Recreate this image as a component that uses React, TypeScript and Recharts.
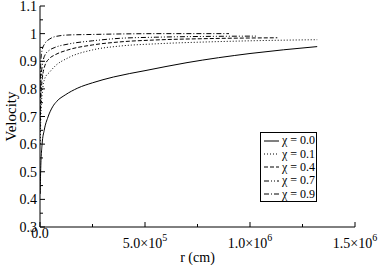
import { LineChart, Line, XAxis, YAxis } from "recharts";

// radius (cm) and velocity samples for each spin parameter
const chi00R = [1e3, 3e3, 1e4, 2e4, 3.8e4, 6e4, 8e4, 1.2e5, 1.8e5, 2.5e5, 3.5e5, 5e5, 7e5, 1e6, 1.32e6];
const chi00V = [0.42, 0.5, 0.6, 0.65, 0.698, 0.735, 0.755, 0.778, 0.803, 0.822, 0.843, 0.866, 0.895, 0.928, 0.953];

const chi01R = [1e3, 4e3, 1e4, 2.4e4, 4.5e4, 7.1e4, 1.33e5, 2.5e5, 3.8e5, 5.5e5, 8e5, 1e6, 1.32e6];
const chi01V = [0.6, 0.7, 0.78, 0.84, 0.86, 0.882, 0.912, 0.941, 0.955, 0.963, 0.97, 0.974, 0.978];

const chi04R = [1e3, 4e3, 1e4, 2.4e4, 4.5e4, 7.1e4, 1.33e5, 2.5e5, 3.8e5, 5.5e5, 8e5, 1.13e6];
const chi04V = [0.66, 0.76, 0.83, 0.886, 0.91, 0.923, 0.941, 0.959, 0.97, 0.977, 0.982, 0.985];

const chi07R = [1e3, 4e3, 1e4, 2.4e4, 4.5e4, 7.1e4, 1.33e5, 2.5e5, 3.8e5, 5.5e5, 8e5, 1.03e6];
const chi07V = [0.72, 0.82, 0.88, 0.923, 0.94, 0.95, 0.962, 0.974, 0.983, 0.987, 0.99, 0.991];

const chi09R = [1e3, 4e3, 1e4, 2.4e4, 4.5e4, 7.1e4, 1.33e5, 2.5e5, 4e5, 6e5, 9e5];
const chi09V = [0.8, 0.9, 0.94, 0.965, 0.98, 0.989, 0.995, 0.997, 0.999, 1.0, 1.0];

const xTicks = [0, 2.5e5, 5e5, 7.5e5, 1e6, 1.25e6, 1.5e6];
const yTicks = [0.3, 0.35, 0.4, 0.45, 0.5, 0.55, 0.6, 0.65, 0.7, 0.75, 0.8, 0.85, 0.9, 0.95, 1.0, 1.05, 1.1];

const seriesLabels = ["χ = 0.0", "χ = 0.1", "χ = 0.4", "χ = 0.7", "χ = 0.9"];
const dashes = ["", "1 2", "4 2", "5 2 1 2 1 2", "5 2 1 2"];

const toPoints = (r: number[], v: number[]) => r.map((x, i) => ({ r: x, v: v[i] }));
const series = [
  toPoints(chi00R, chi00V),
  toPoints(chi01R, chi01V),
  toPoints(chi04R, chi04V),
  toPoints(chi07R, chi07V),
  toPoints(chi09R, chi09V),
];

const FONT = "Liberation Serif, Times New Roman, serif";

const isMajorX = (v: number) => v % 5e5 === 0;
const isMajorY = (v: number) => Math.round(v * 100) % 10 === 0;

const BottomTick = (props: any) => {
  const { x, y, payload } = props;
  const v = payload.value;
  const major = isMajorX(v);
  let label = null;
  if (major) {
    if (v === 0) {
      label = (
        <text x={x} y={y + 11} textAnchor="middle" fontSize={14} fontFamily={FONT} fill="#000">
          0.0
        </text>
      );
    } else {
      const exp = Math.floor(Math.log10(v));
      const mant = (v / Math.pow(10, exp)).toFixed(1);
      label = (
        <text x={x} y={y + 21} textAnchor="middle" fontSize={14} fontFamily={FONT} fill="#000">
          {mant}×10
          <tspan dy={-7} fontSize={10}>{exp}</tspan>
        </text>
      );
    }
  }
  return (
    <g>
      <line x1={x} y1={y} x2={x} y2={y - (major ? 5 : 3)} stroke="#000" />
      {label}
    </g>
  );
};

const TopTick = (props: any) => {
  const { x, y, payload } = props;
  const len = isMajorX(payload.value) ? 5 : 3;
  return <line x1={x} y1={y} x2={x} y2={y + len} stroke="#000" />;
};

const LeftTick = (props: any) => {
  const { x, y, payload } = props;
  const v = payload.value;
  const major = isMajorY(v);
  return (
    <g>
      <line x1={x} y1={y} x2={x + (major ? 5 : 3)} y2={y} stroke="#000" />
      {major && (
        <text x={x - 3} y={y + 5} textAnchor="end" fontSize={14} fontFamily={FONT} fill="#000">
          {v === 1 ? "1" : v.toFixed(1)}
        </text>
      )}
    </g>
  );
};

const RightTick = (props: any) => {
  const { x, y, payload } = props;
  const len = isMajorY(payload.value) ? 5 : 3;
  return <line x1={x} y1={y} x2={x - len} y2={y} stroke="#000" />;
};

const LegendBox = () => (
  <div
    style={{
      position: "absolute",
      left: 260,
      top: 132,
      width: 55,
      height: 67,
      border: "1px solid #000",
      background: "#fff",
      fontFamily: FONT,
      fontSize: 12,
      paddingTop: 1,
      whiteSpace: "nowrap",
      overflow: "hidden",
    }}
  >
    {seriesLabels.map((name, i) => (
      <div key={name} style={{ display: "flex", alignItems: "center", height: 13.4, lineHeight: "13px" }}>
        <svg width={15} height={8} style={{ marginLeft: 3, marginRight: 3, flexShrink: 0 }}>
          <line x1={0} y1={4} x2={15} y2={4} stroke="#000" strokeDasharray={dashes[i]} />
        </svg>
        <span>{name}</span>
      </div>
    ))}
  </div>
);

export default function App() {
  return (
    <div style={{ position: "absolute", left: 0, top: 0, width: 381, height: 265, background: "#fff" }}>
      <LineChart width={381} height={265} margin={{ top: 6, right: 26, bottom: 0, left: 0 }}>
        <XAxis
          dataKey="r"
          type="number"
          domain={[0, 1.5e6]}
          ticks={xTicks}
          interval={0}
          allowDataOverflow
          height={38}
          tickSize={0}
          tickMargin={0}
          tickLine={false}
          axisLine={{ stroke: "#000" }}
          tick={<BottomTick />}
          label={{ value: "r (cm)", position: "insideBottom", offset: 3, fontSize: 14, fontFamily: FONT, fill: "#000" }}
        />
        <XAxis
          xAxisId="top"
          orientation="top"
          dataKey="r"
          type="number"
          domain={[0, 1.5e6]}
          ticks={xTicks}
          interval={0}
          allowDataOverflow
          height={0}
          tickSize={0}
          tickMargin={0}
          tickLine={false}
          axisLine={{ stroke: "#000" }}
          tick={<TopTick />}
        />
        <YAxis
          dataKey="v"
          type="number"
          domain={[0.3, 1.1]}
          ticks={yTicks}
          interval={0}
          allowDataOverflow
          width={40}
          tickSize={0}
          tickMargin={0}
          tickLine={false}
          axisLine={{ stroke: "#000" }}
          tick={<LeftTick />}
          label={{ value: "Velocity", angle: -90, position: "center", dx: -9, fontSize: 15, fontFamily: FONT, fill: "#000" }}
        />
        <YAxis
          yAxisId="right"
          orientation="right"
          type="number"
          domain={[0.3, 1.1]}
          ticks={yTicks}
          interval={0}
          allowDataOverflow
          width={0}
          tickSize={0}
          tickMargin={0}
          tickLine={false}
          axisLine={{ stroke: "#000" }}
          tick={<RightTick />}
        />
        {series.map((pts, i) => (
          <Line
            key={seriesLabels[i]}
            data={pts}
            dataKey="v"
            name={seriesLabels[i]}
            type="monotone"
            stroke="#000"
            strokeWidth={1}
            strokeDasharray={dashes[i] || undefined}
            dot={false}
            activeDot={false}
            isAnimationActive={false}
          />
        ))}
      </LineChart>
      <LegendBox />
    </div>
  );
}
